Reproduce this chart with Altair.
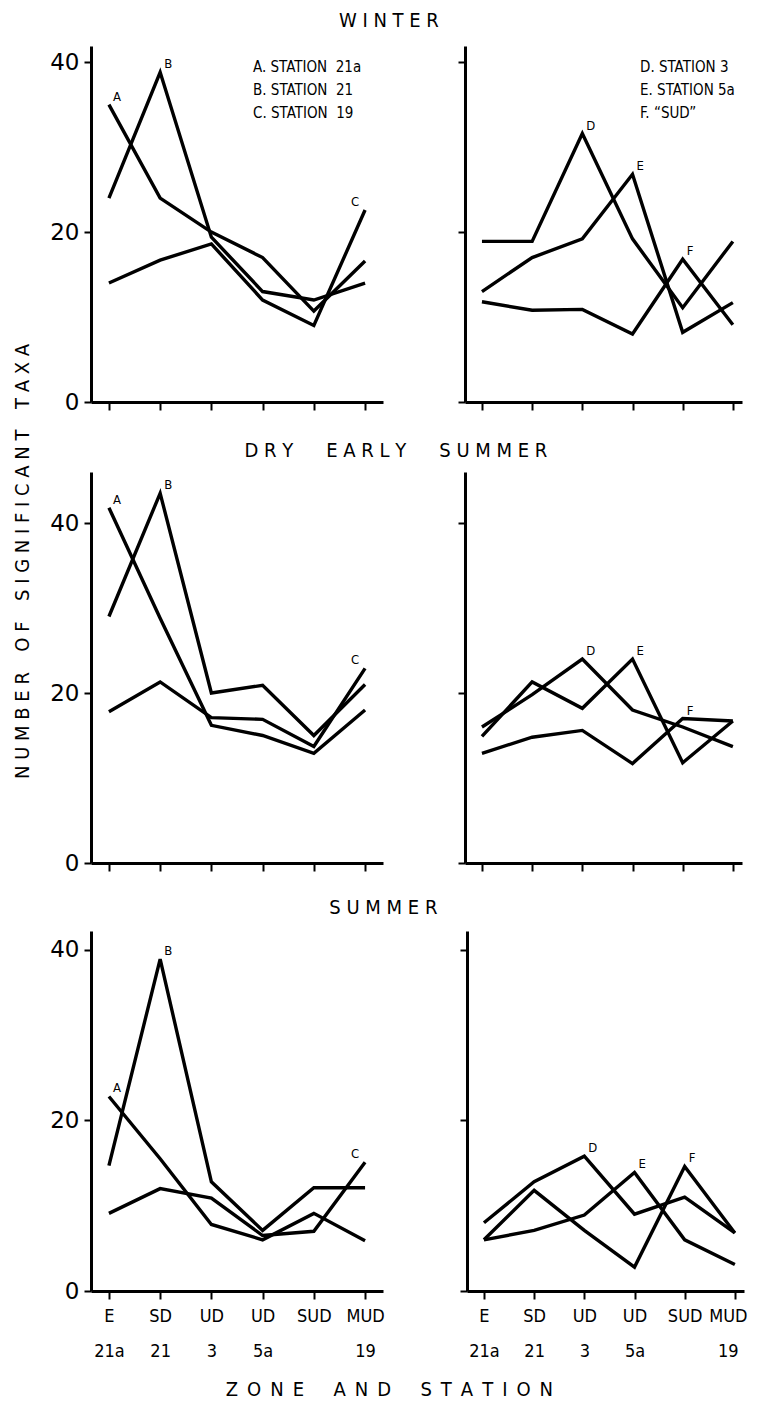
import altair as alt
import pandas as pd

FONT = "DejaVu Sans Condensed, Liberation Sans Narrow, DejaVu Sans"

zones = ["E|21a", "SD|21", "UD|3", "UD|5a", "SUD|", "MUD|19"]

# Winter
winter_A = [35.0, 24.0, 20.0, 17.0, 10.7, 16.6]
winter_B = [24.0, 38.8, 19.4, 13.0, 12.0, 14.0]
winter_C = [14.0, 16.7, 18.6, 12.0, 9.0, 22.6]
winter_D = [18.9, 18.9, 31.6, 19.2, 11.1, 18.9]
winter_E = [13.0, 17.0, 19.2, 26.8, 8.2, 11.7]
winter_F = [11.8, 10.8, 10.9, 8.0, 16.8, 9.1]

# Dry early summer
dry_A = [41.8, 28.8, 16.2, 15.0, 12.9, 18.0]
dry_B = [29.0, 43.5, 20.0, 20.9, 15.0, 21.0]
dry_C = [17.8, 21.3, 17.1, 16.9, 13.7, 22.9]
dry_D = [16.0, 19.8, 24.0, 18.0, 16.0, 13.7]
dry_E = [14.9, 21.3, 18.2, 24.0, 11.8, 16.7]
dry_F = [12.9, 14.8, 15.6, 11.7, 17.0, 16.7]

# Summer
summer_A = [22.8, 15.5, 7.8, 6.0, 9.1, 5.9]
summer_B = [14.7, 38.9, 12.8, 7.1, 12.1, 12.1]
summer_C = [9.1, 12.0, 10.9, 6.5, 7.0, 15.1]
summer_D = [8.0, 12.8, 15.8, 9.0, 11.0, 6.8]
summer_E = [6.0, 7.1, 8.9, 13.9, 6.0, 3.1]
summer_F = [6.0, 11.8, 7.1, 2.8, 14.6, 6.8]

left_names = ["A", "B", "C"]
right_names = ["D", "E", "F"]
label_zone = {"A": "E|21a", "B": "SD|21", "C": "MUD|19",
              "D": "UD|3", "E": "UD|5a", "F": "SUD|"}
labels_to_left = ["C"]

left_legend = "A. STATION\u00a0\u00a021a\nB. STATION\u00a0\u00a021\nC. STATION\u00a0\u00a019"
right_legend = "D. STATION\u00a03\nE. STATION\u00a05a\nF. \u201cSUD\u201d"

WG = " \u2003\u2009 "   # wide word gap for spaced titles
YG = " \u2002 "         # word gap for the vertical title


def spaced(words, gap, sep=" "):
    return gap.join(sep.join(list(w)) for w in words)


row_titles = [spaced(["WINTER"], WG),
              spaced(["DRY", "EARLY", "SUMMER"], WG),
              spaced(["SUMMER"], WG)]
x_title = spaced(["ZONE", "AND", "STATION"], " \u2003 ", "\u2002")
y_title = spaced(["NUMBER", "OF", "SIGNIFICANT", "TAXA"], YG)

y_max = [41.9, 46.0, 42.2]
row_heights = [356, 391, 360]
title_offsets = [15, 11, 13]
title_dx = [-7, 0, -15]

row_data = [
    ([winter_A, winter_B, winter_C], [winter_D, winter_E, winter_F]),
    ([dry_A, dry_B, dry_C], [dry_D, dry_E, dry_F]),
    ([summer_A, summer_B, summer_C], [summer_D, summer_E, summer_F]),
]


def panel(names, series, ymax, height, width, is_left, is_bottom, legend, legend_x, pad, align):
    df = pd.DataFrame([
        {"zone": z, "value": v, "series": n}
        for n, vals in zip(names, series) for z, v in zip(zones, vals)
    ])
    last_shift = 0 if is_left else -7
    x = alt.X(
        "zone:N", sort=zones,
        scale=alt.Scale(type="point", padding=pad, align=align),
        axis=alt.Axis(
            title=None, labels=is_bottom, labelExpr="split(datum.value, '|')",
            labelAngle=0, labelFontSize=18, labelFont=FONT, labelLineHeight=35,
            labelPadding=8, labelBaseline="top", tickSize=8, tickWidth=2,
            labelOffset={"condition": {"test": "datum.value === 'MUD|19'",
                                       "value": last_shift}, "value": 0},
            domainWidth=3, grid=False, labelColor="black",
            tickColor="black", domainColor="black",
        ),
    )
    y = alt.Y(
        "value:Q",
        scale=alt.Scale(domain=[0, ymax], nice=False, zero=True),
        axis=alt.Axis(
            title=None, values=[0, 20, 40], labels=is_left, labelFontSize=23,
            labelFont="DejaVu Sans", labelPadding=5, tickSize=7, tickWidth=2,
            domainWidth=3, grid=False, labelColor="black",
            tickColor="black", domainColor="black",
        ),
    )
    lines = alt.Chart(df).mark_line(
        color="black", strokeWidth=3.4, strokeJoin="miter", strokeCap="butt"
    ).encode(x=x, y=y, detail="series:N")

    lab = df[df.apply(lambda r: label_zone[r["series"]] == r["zone"], axis=1)]
    lab_r = lab[~lab["series"].isin(labels_to_left)]
    lab_l = lab[lab["series"].isin(labels_to_left)]
    layers = [lines]
    if len(lab_r):
        layers.append(alt.Chart(lab_r).mark_text(
            align="left", baseline="bottom", dx=4, dy=-1, fontSize=13,
            font=FONT, color="black"
        ).encode(x=x, y=y, text="series:N"))
    if len(lab_l):
        layers.append(alt.Chart(lab_l).mark_text(
            align="right", baseline="bottom", dx=-6, dy=-1, fontSize=13,
            font=FONT, color="black"
        ).encode(x=x, y=y, text="series:N"))
    if legend is not None:
        layers.append(alt.Chart(pd.DataFrame({"t": [legend]})).mark_text(
            align="left", baseline="top", lineBreak="\n", lineHeight=23,
            fontSize=15, font=FONT, color="black"
        ).encode(x=alt.value(legend_x), y=alt.value(14), text="t:N"))
    return alt.layer(*layers).properties(width=width, height=height)


rows = []
for i, (lser, rser) in enumerate(row_data):
    bottom = i == 2
    first = i == 0
    lp = panel(left_names, lser, y_max[i], row_heights[i], 292, True, bottom,
               left_legend if first else None, 162, 0.35, 0.5)
    rp = panel(right_names, rser, y_max[i], row_heights[i], 277, False, bottom,
               right_legend if first else None, 175, 0.26, 0.65)
    row = alt.hconcat(lp, rp, spacing=74).properties(
        title=alt.TitleParams(
            row_titles[i], anchor="middle", fontSize=20, font=FONT,
            fontWeight="normal", color="black", offset=title_offsets[i],
            dx=title_dx[i]
        )
    )
    rows.append(row)

lower = alt.vconcat(rows[1], rows[2], spacing=23)
inner = alt.vconcat(rows[0], lower, spacing=27).properties(
    title=alt.TitleParams(
        x_title, orient="bottom", anchor="middle",
        fontSize=20, font=FONT, fontWeight="normal", color="black",
        offset=20, dx=-9
    )
)

# rotated title: its dx runs along the text (screen up for orient left)
chart = alt.hconcat(inner).properties(
    title=alt.TitleParams(
        y_title, orient="left", anchor="middle", fontSize=20, font=FONT,
        fontWeight="normal", color="black", offset=17, dx=144
    ),
    padding={"left": 4, "top": 3, "right": 0, "bottom": 0},
).configure(background="white", view=alt.ViewConfig(stroke=None))

chart.save("out.html", embed_options={"renderer": "svg", "actions": False})
